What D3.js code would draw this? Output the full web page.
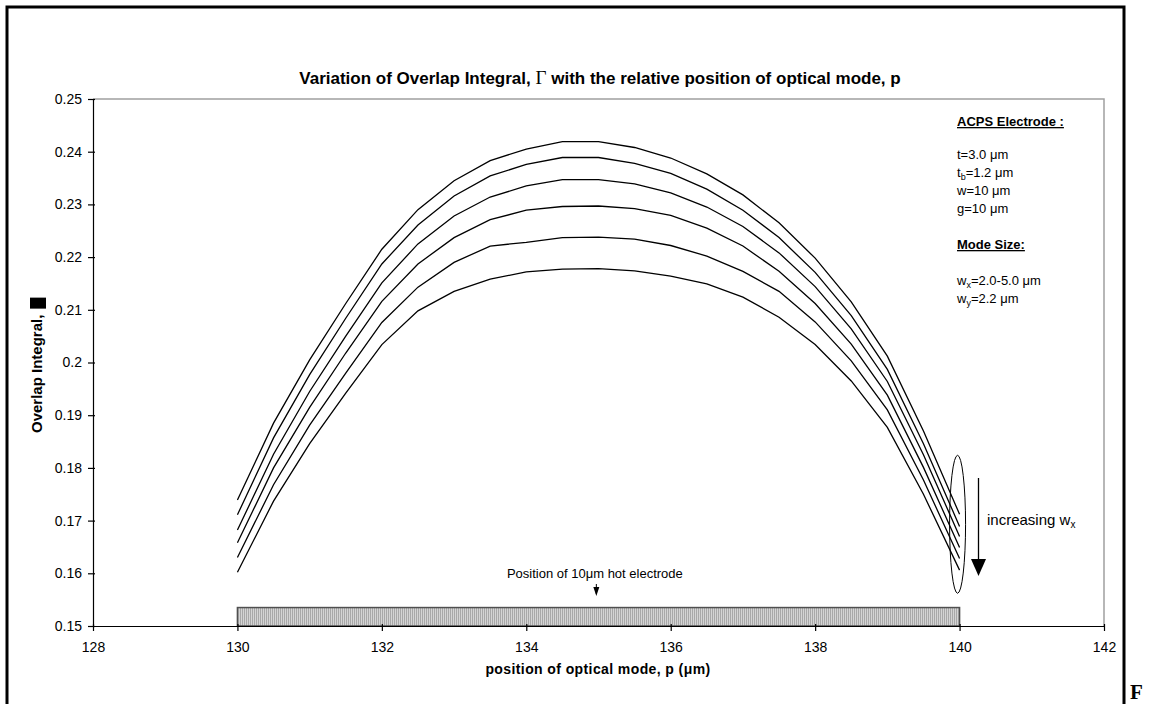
<!DOCTYPE html>
<html>
<head>
<meta charset="utf-8">
<script src="https://cdn.jsdelivr.net/npm/d3@7"></script>
<style>
  body { margin: 0; background: #fff; }
  svg { display: block; font-family: Arial, "Liberation Sans", sans-serif; }
  .axis text { font-size: 14px; fill: #000; }
  .axis path, .axis line { stroke: #000; stroke-width: 1.2; }
</style>
</head>
<body>
<svg width="1152" height="704"></svg>
<script>
// positions of the optical mode (um)
var positions = [130, 130.5, 131, 131.5, 132, 132.5, 133, 133.5, 134, 134.5, 135,
                 135.5, 136, 136.5, 137, 137.5, 138, 138.5, 139, 139.5, 140];

// overlap integral, one curve per mode width (w_x from 2.0 to 5.0 um)
var curve1 = [0.1739, 0.1885, 0.2005, 0.2112, 0.2215, 0.2290, 0.2345, 0.2383, 0.2405, 0.2419, 0.2419,
              0.2408, 0.2388, 0.2358, 0.2318, 0.2265, 0.2198, 0.2115, 0.2012, 0.1870, 0.1712];
var curve2 = [0.1711, 0.1857, 0.1977, 0.2084, 0.2187, 0.2261, 0.2316, 0.2354, 0.2376, 0.2389, 0.2389,
              0.2378, 0.2359, 0.2329, 0.2289, 0.2237, 0.2171, 0.2089, 0.1987, 0.1846, 0.1689];
var curve3 = [0.1682, 0.1826, 0.1945, 0.2050, 0.2151, 0.2225, 0.2278, 0.2314, 0.2335, 0.2347, 0.2347,
              0.2339, 0.2322, 0.2295, 0.2258, 0.2208, 0.2144, 0.2064, 0.1964, 0.1825, 0.1670];
var curve4 = [0.1658, 0.1800, 0.1915, 0.2018, 0.2116, 0.2187, 0.2237, 0.2271, 0.2289, 0.2296, 0.2297,
              0.2292, 0.2279, 0.2255, 0.2221, 0.2173, 0.2112, 0.2035, 0.1938, 0.1801, 0.1649];
var curve5 = [0.1630, 0.1768, 0.1881, 0.1980, 0.2076, 0.2143, 0.2190, 0.2221, 0.2228, 0.2237, 0.2238,
              0.2234, 0.2222, 0.2202, 0.2173, 0.2135, 0.2077, 0.2003, 0.1910, 0.1777, 0.1628];
var curve6 = [0.1602, 0.1737, 0.1846, 0.1942, 0.2034, 0.2098, 0.2135, 0.2158, 0.2172, 0.2177, 0.2178,
              0.2174, 0.2164, 0.2149, 0.2124, 0.2086, 0.2034, 0.1965, 0.1877, 0.1750, 0.1606];
var curves = [curve1, curve2, curve3, curve4, curve5, curve6];

var xTicks = [128, 130, 132, 134, 136, 138, 140, 142];
var yTicks = [0.15, 0.16, 0.17, 0.18, 0.19, 0.2, 0.21, 0.22, 0.23, 0.24, 0.25];

// hot electrode spans 130..140 um
var electrode = [130, 140];
var electrodeTop = 0.1535;

var x = d3.scaleLinear().domain([128, 142]).range([93, 1104]);
var y = d3.scaleLinear().domain([0.15, 0.25]).range([626, 99]);

var svg = d3.select("svg");

// hatch for the electrode bar
var defs = svg.append("defs");
var pat = defs.append("pattern")
  .attr("id", "hatch")
  .attr("patternUnits", "userSpaceOnUse")
  .attr("width", 2).attr("height", 4);
pat.append("rect").attr("width", 2).attr("height", 4).attr("fill", "#d4d4d4");
pat.append("rect").attr("width", 1).attr("height", 4).attr("fill", "#a8a8a8");

// outer frame of the figure
svg.append("path")
  .attr("d", "M7,704 V7 H1124 V704")
  .attr("fill", "none")
  .attr("stroke", "#000")
  .attr("stroke-width", 3);

svg.append("text")
  .attr("x", 1130).attr("y", 699)
  .attr("font-family", "'Liberation Serif', 'Times New Roman', serif")
  .attr("font-weight", "bold")
  .attr("font-size", 21)
  .text("F");

// plot area border (gray top and right)
svg.append("path")
  .attr("d", "M" + x(128) + "," + y(0.25) + " H" + x(142) + " V" + y(0.15))
  .attr("fill", "none")
  .attr("stroke", "#a0a0a0")
  .attr("stroke-width", 1.5);

// title
var title = svg.append("text")
  .attr("x", 600).attr("y", 84)
  .attr("text-anchor", "middle")
  .attr("font-weight", "bold")
  .attr("font-size", 17);
title.append("tspan").text("Variation of Overlap Integral, ");
title.append("tspan")
  .attr("font-family", "'Liberation Serif', 'Times New Roman', serif")
  .attr("font-weight", "normal")
  .attr("font-size", 19)
  .text("Γ");
title.append("tspan").text(" with the relative position of optical mode, p");

// electrode bar
svg.append("rect")
  .attr("x", x(electrode[0]))
  .attr("y", y(electrodeTop))
  .attr("width", x(electrode[1]) - x(electrode[0]))
  .attr("height", y(0.15) - y(electrodeTop))
  .attr("fill", "url(#hatch)")
  .attr("stroke", "#505050")
  .attr("stroke-width", 1.5);

// axes
var gy = svg.append("g")
  .attr("class", "axis")
  .attr("transform", "translate(" + x(128) + ",0)")
  .call(d3.axisLeft(y).tickValues(yTicks).tickSize(5).tickSizeOuter(0).tickPadding(6)
    .tickFormat(d => String(+d.toFixed(2))));
gy.selectAll(".tick line").attr("x1", 2);

var gx = svg.append("g")
  .attr("class", "axis")
  .attr("transform", "translate(0," + y(0.15) + ")")
  .call(d3.axisBottom(x).tickValues(xTicks).tickSize(5).tickSizeOuter(0).tickPadding(11));
gx.selectAll(".tick line").attr("y1", -2);

// curves
var line = d3.line()
  .x((d, i) => x(positions[i]))
  .y(d => y(d));

svg.append("g").selectAll("path")
  .data(curves)
  .enter().append("path")
    .attr("d", line)
    .attr("fill", "none")
    .attr("stroke", "#000")
    .attr("stroke-width", 1.3);

// axis titles
svg.append("text")
  .attr("x", 598).attr("y", 674)
  .attr("text-anchor", "middle")
  .attr("font-weight", "bold")
  .attr("font-size", 14)
  .attr("letter-spacing", 0.4)
  .text("position of optical mode, p (μm)");

var ylab = svg.append("g").attr("transform", "translate(42,433) rotate(-90)");
var ylabText = ylab.append("text")
  .attr("font-weight", "bold")
  .attr("font-size", 15)
  .text("Overlap Integral,");
var lw = ylabText.node().getComputedTextLength();
ylab.append("rect")
  .attr("x", lw + 6).attr("y", -12)
  .attr("width", 11).attr("height", 16)
  .attr("fill", "#000");

// electrode annotation
svg.append("text")
  .attr("x", x(134.95)).attr("y", 578)
  .attr("text-anchor", "middle")
  .attr("font-size", 13)
  .text("Position of 10μm hot electrode");
svg.append("line")
  .attr("x1", x(134.97)).attr("x2", x(134.97))
  .attr("y1", 584).attr("y2", 594)
  .attr("stroke", "#000").attr("stroke-width", 1);
svg.append("path")
  .attr("d", "M" + (x(134.97) - 3) + ",587 L" + (x(134.97) + 3) + ",587 L" + x(134.97) + ",596 Z")
  .attr("fill", "#000");

// ellipse around curve ends and the w_x arrow
svg.append("ellipse")
  .attr("cx", x(140) - 2).attr("cy", y(0.1693))
  .attr("rx", 8).attr("ry", 69)
  .attr("fill", "none")
  .attr("stroke", "#000")
  .attr("stroke-width", 1);

svg.append("line")
  .attr("x1", 978.5).attr("x2", 978.5)
  .attr("y1", 478).attr("y2", 562)
  .attr("stroke", "#000").attr("stroke-width", 1.3);
svg.append("path")
  .attr("d", "M971,559 L986,559 L978.5,576 Z")
  .attr("fill", "#000");

var inc = svg.append("text")
  .attr("x", 987).attr("y", 525)
  .attr("font-size", 15);
inc.append("tspan").text("increasing w");
inc.append("tspan").attr("font-size", 10).attr("dy", 3).text("x");

// electrode / mode parameters block
var bx = 957;
function para(yPos, parts, opts) {
  var t = svg.append("text")
    .attr("x", bx).attr("y", yPos)
    .attr("font-size", 13);
  if (opts && opts.bold) t.attr("font-weight", "bold").attr("text-decoration", "underline");
  parts.forEach(p => {
    var s = t.append("tspan").text(p[0]);
    if (p[1] === "sub") s.attr("font-size", 9).attr("dy", 3);
    if (p[1] === "up") s.attr("dy", -3);
  });
  return t;
}
para(126, [["ACPS Electrode :"]], { bold: true });
para(159, [["t=3.0 μm"]]);
para(177, [["t"], ["b", "sub"], ["=1.2 μm", "up"]]);
para(195, [["w=10 μm"]]);
para(213, [["g=10 μm"]]);
para(249, [["Mode Size:"]], { bold: true });
para(285, [["w"], ["x", "sub"], ["=2.0-5.0 μm", "up"]]);
para(303, [["w"], ["y", "sub"], ["=2.2 μm", "up"]]);
</script>
</body>
</html>
